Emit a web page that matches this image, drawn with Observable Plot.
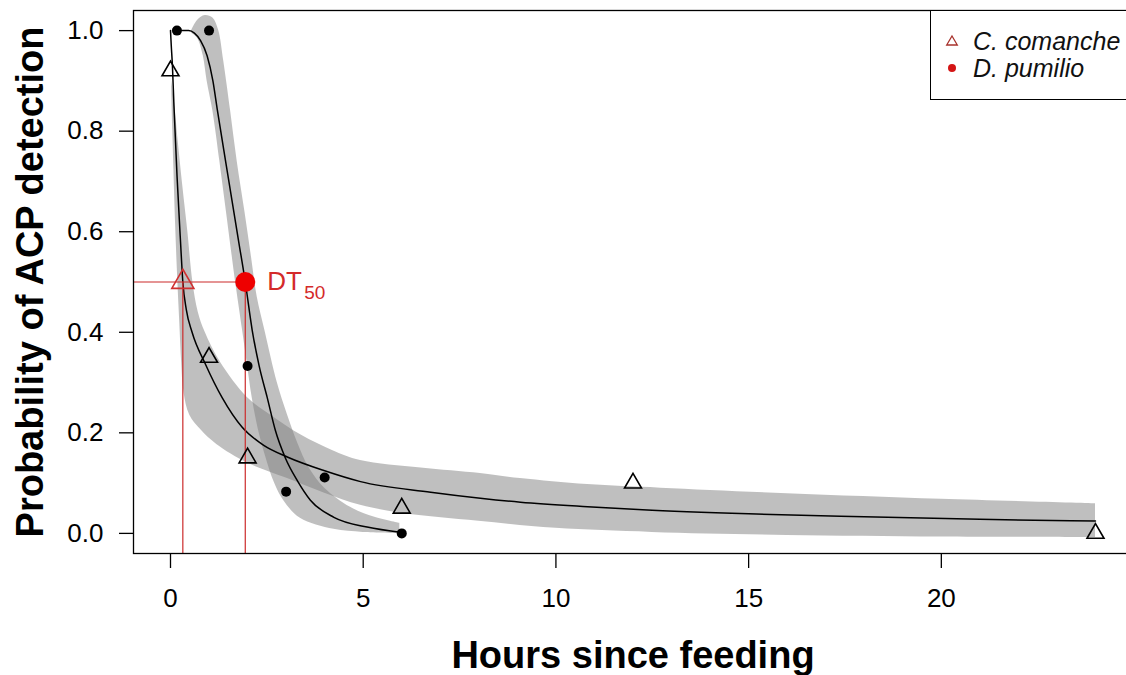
<!DOCTYPE html>
<html>
<head>
<meta charset="utf-8">
<script src="https://cdn.jsdelivr.net/npm/d3@7"></script>
<script src="https://cdn.jsdelivr.net/npm/@observablehq/plot@0.6"></script>
<style>
  html, body { margin: 0; padding: 0; background: #fff; overflow: hidden; }
  #wrap { position: relative; width: 1126px; height: 675px; }
  #legend { position: absolute; left: 930px; top: 10px; width: 210px; height: 90px;
    border: 1.3px solid #000; background: #fff; box-sizing: border-box;
    font-family: "Liberation Sans", Arial, sans-serif; font-style: italic; font-size: 25px; color: #111; }
  #legend .row { position: absolute; left: 0; height: 28px; display: flex; align-items: center; }
  #legend svg { margin-left: 12px; margin-right: 12px; }
</style>
</head>
<body>
<div id="wrap">
  <div id="chart"></div>
  <div id="legend">
    <div class="row" style="top:16px"><svg width="18" height="18" viewBox="-9 -9 18 18"><path d="M0,-5 L5.3,4 L-5.3,4 Z" fill="none" stroke="#a8322c" stroke-width="1.3"/></svg><span>C. comanche</span></div>
    <div class="row" style="top:43px"><svg width="18" height="18" viewBox="-9 -9 18 18"><circle r="4" fill="#d41515"/></svg><span>D. pumilio</span></div>
  </div>
</div>
<script>
// ---- data ----
const xTicks = [0, 5, 10, 15, 20];
const yTicks = [0, 0.2, 0.4, 0.6, 0.8, 1.0];

const comancheHours = [0, 1, 2, 6, 12, 24];
const comancheProb  = [0.92, 0.35, 0.15, 0.05, 0.10, 0.0];
const pumilioHours  = [0.167, 1, 2, 3, 4, 6];
const pumilioProb   = [1.0, 1.0, 0.333, 0.083, 0.111, 0.0];

const dt50Comanche = 0.32;
const dt50Pumilio  = 1.94;

// fitted curves [hours, probability]
const comancheFit = [[0,1.0],[0.02,0.97],[0.05,0.93],[0.09,0.85],[0.17,0.71],[0.26,0.58],[0.32,0.5],
  [0.41,0.445],[0.56,0.40],[0.91,0.336],[1.34,0.27],[1.86,0.211],[2.42,0.175],[3.03,0.152],
  [3.98,0.125],[4.93,0.103],[6.75,0.082],[8.04,0.070],[9.08,0.062],[10.82,0.053],[12.25,0.047],
  [15,0.039],[18,0.033],[21,0.028],[24,0.0245]];
const pumilioFit = [[0.167,1.0],[0.47,1.0],[0.62,0.995],[0.78,0.98],[0.95,0.95],[1.1,0.9],[1.21,0.845],
  [1.43,0.74],[1.6,0.66],[1.77,0.58],[1.94,0.5],[2.12,0.404],[2.3,0.333],[2.51,0.27],[2.72,0.205],
  [2.98,0.15],[3.29,0.105],[3.63,0.066],[4.24,0.032],[5.1,0.0125],[6,0.002]];

// confidence bands [hours, probability]
const comancheUpper = [[0.03,0.9],[0.1,0.86],[0.2,0.78],[0.32,0.69],[0.45,0.6],[0.58,0.5],[0.72,0.44],
  [0.9,0.4],[1.3,0.34],[2.0,0.27],[2.6,0.235],[3.4,0.195],[4.2,0.165],[4.93,0.145],[6.5,0.13],
  [8.04,0.119],[9.08,0.109],[10.82,0.097],[12.72,0.09],[16,0.079],[20,0.068],[24,0.059]];
const comancheLower = [[0.03,0.89],[0.06,0.8],[0.09,0.72],[0.13,0.62],[0.18,0.52],[0.24,0.42],[0.29,0.34],
  [0.35,0.28],[0.5,0.235],[0.8,0.205],[1.2,0.177],[2.0,0.14],[3.0,0.11],[4.0,0.08],[4.93,0.056],
  [6.0,0.04],[8.0,0.024],[10.0,0.01],[12.5,0.002],[16,-0.004],[20,-0.007],[24,-0.008]];
const pumilioUpper = [[0.55,1.0],[0.7,1.02],[0.9,1.03],[1.1,1.025],[1.25,1.0],[1.38,0.94],[1.56,0.84],
  [1.73,0.74],[1.93,0.64],[2.1,0.55],[2.25,0.47],[2.46,0.4],[2.77,0.3],[3.03,0.237],[3.3,0.18],
  [3.6,0.13],[4.0,0.09],[4.67,0.052],[5.3,0.032],[5.95,0.02]];
const pumilioLower = [[0.55,0.995],[0.7,0.985],[0.85,0.95],[0.95,0.9],[1.1,0.84],[1.28,0.74],[1.45,0.64],
  [1.62,0.54],[1.69,0.5],[1.87,0.404],[2.0,0.333],[2.12,0.27],[2.3,0.2],[2.48,0.15],[2.7,0.1],
  [2.94,0.065],[3.37,0.03],[4.24,0.008],[5.0,0.002],[5.95,0.0]];

// ---- build tables ----
const obsC = comancheHours.map((t, i) => ({t, p: comancheProb[i]}));
const obsP = pumilioHours.map((t, i) => ({t, p: pumilioProb[i]}));
const band = (up, lo) => up.map((u, i) => ({xu: u[0], yu: u[1], xl: lo[i][0], yl: lo[i][1]}));
const bandC = band(comancheUpper, comancheLower);
const bandP = band(pumilioUpper, pumilioLower);

const xDomain = [-0.96, 24.96];
const yDomain = [-0.04, 1.04];
const red = "#cc2b2b";
const font = "'Liberation Sans', Arial, sans-serif";

const chart = Plot.plot({
  width: 1126, height: 675,
  marginLeft: 133, marginRight: -6, marginTop: 10, marginBottom: 122,
  x: {domain: xDomain},
  y: {domain: yDomain},
  style: {fontFamily: font, background: "#fff", color: "#000"},
  marks: [
    Plot.area(bandC, {x1: "xl", y1: "yl", x2: "xu", y2: "yu", fill: "#808080", fillOpacity: 0.5, curve: "catmull-rom"}),
    Plot.area(bandP, {x1: "xl", y1: "yl", x2: "xu", y2: "yu", fill: "#808080", fillOpacity: 0.5, curve: "catmull-rom"}),
    Plot.line(comancheFit, {x: d => d[0], y: d => d[1], stroke: "#000", strokeWidth: 1.5, curve: "monotone-x"}),
    Plot.line(pumilioFit, {x: d => d[0], y: d => d[1], stroke: "#000", strokeWidth: 1.5, curve: "monotone-x"}),
    Plot.ruleY([0.5], {x1: xDomain[0], x2: dt50Pumilio, stroke: red, strokeWidth: 1.2}),
    Plot.ruleX([dt50Comanche, dt50Pumilio], {y1: yDomain[0], y2: 0.5, stroke: red, strokeWidth: 1.2}),
    Plot.dot(obsC, {x: "t", y: "p", symbol: "triangle", r: 6.3, stroke: "#000", strokeWidth: 1.6, fill: "none"}),
    Plot.dot(obsP, {x: "t", y: "p", r: 5, fill: "#000"}),
    Plot.dot([dt50Comanche], {x: d => d, y: () => 0.5, symbol: "triangle", r: 8.2, stroke: "#d03030", strokeWidth: 1.6, fill: "none"}),
    Plot.dot([dt50Pumilio], {x: d => d, y: () => 0.5, r: 10, fill: "#ee0000"}),
    Plot.text(["DT"], {x: () => dt50Pumilio, y: () => 0.5, dx: 22, textAnchor: "start", lineAnchor: "middle", fontSize: 26, fill: "#d42a2a"}),
    Plot.text(["50"], {x: () => dt50Pumilio, y: () => 0.5, dx: 59, dy: 11, textAnchor: "start", lineAnchor: "middle", fontSize: 19, fill: "#d42a2a"}),
    Plot.frame({stroke: "#000", strokeWidth: 1.3}),
    Plot.axisY(yTicks, {tickSize: 14, tickPadding: 16, fontSize: 26, strokeWidth: 1.3, tickFormat: d => d.toFixed(1), label: null}),
    Plot.axisX(xTicks, {tickSize: 15, tickPadding: 20, fontSize: 26, strokeWidth: 1.3, label: null}),
    Plot.text(["Hours since feeding"], {frameAnchor: "bottom", dy: 102, textAnchor: "middle", lineAnchor: "middle", fontSize: 38, fontWeight: "bold"}),
    Plot.text(["Probability of ACP detection"], {frameAnchor: "left", dx: -103, rotate: -90, textAnchor: "middle", lineAnchor: "middle", fontSize: 38, fontWeight: "bold"})
  ]
});
document.getElementById("chart").appendChild(chart);
</script>
</body>
</html>
